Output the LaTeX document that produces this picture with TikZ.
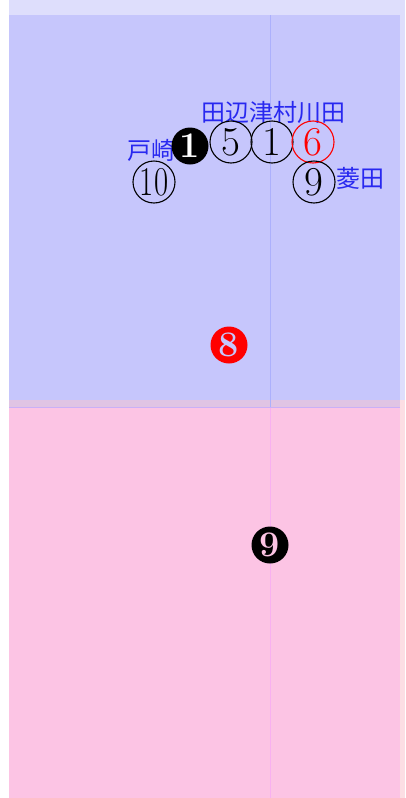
\documentclass[tikz,border=0pt]{standalone}
\usepackage{fontspec}
\newfontfamily\cjk{Noto Sans CJK JP}
\definecolor{toplav}{RGB}{222,222,252}
\definecolor{bluebox}{RGB}{198,198,252}
\definecolor{pinklight}{RGB}{252,222,228}
\definecolor{pinkbox}{RGB}{252,196,228}
\definecolor{overlapc}{RGB}{224,196,228}
\definecolor{bluelinec}{RGB}{172,176,252}
\definecolor{pinklinec}{RGB}{248,176,240}
\definecolor{labelblue}{RGB}{40,40,240}
\tikzset{
  ring/.style={circle, draw=black, line width=1.1pt, minimum size=42pt, inner sep=0pt,
    font=\fontsize{41}{41}\selectfont},
  redring/.style={ring, draw=red, text=red},
  dot/.style={circle, minimum size=37pt, inner sep=0pt,
    font=\bfseries\fontsize{36}{36}\selectfont},
  place/.style={text=labelblue, inner sep=0pt, font=\cjk\fontsize{24}{24}\selectfont}
}
\begin{document}
\begin{tikzpicture}[x=1pt,y=-1pt]
\useasboundingbox (0,0) rectangle (405,798);
\fill[white] (0,0) rectangle (405,798);
\fill[toplav] (9,0) rectangle (405,400);
\fill[pinklight] (9,400) rectangle (405,798);
\fill[bluebox] (9,15) rectangle (400,400);
\fill[overlapc] (9,400) rectangle (400,407);
\fill[pinkbox] (9,407) rectangle (400,798);
\draw[bluelinec, line width=0.6pt] (270,15) -- (270,407);
\draw[pinklinec, line width=0.6pt] (270,407) -- (270,798);
\draw[color=bluelinec!60!pinklinec, line width=0.6pt] (9,407) -- (400,407);

\node[place] (tanabe) at (273,112) {田辺津村川田};
\node[place] (tozaki) at (151,150) {戸崎};
\node[place] (hishida) at (360,178) {菱田};

\node[dot, fill=black, text=white] (d1) at (190,146) {1};
\node[ring] (r5) at (231,142) {5};
\node[ring] (r1) at (272,142) {1};
\node[redring] (r6) at (313,142) {6};
\node[ring] (r10) at (154,182) {\scalebox{0.75}[1]{10}};
\node[ring] (r9) at (314,182) {9};

\node[dot, fill=red, text=bluebox] (d8) at (229,345) {8};
\node[dot, fill=black, text=pinkbox] (d9) at (270,545) {9};
\end{tikzpicture}
\end{document}
